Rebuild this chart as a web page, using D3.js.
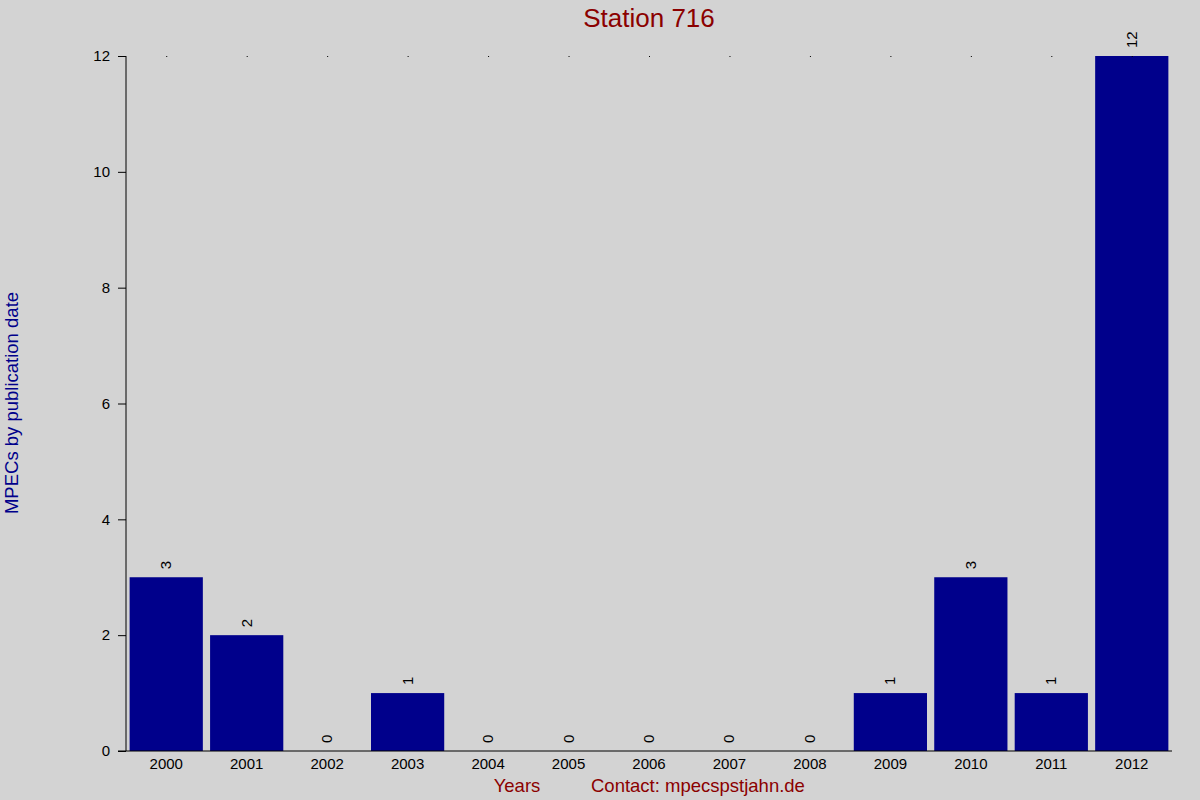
<!DOCTYPE html>
<html>
<head>
<meta charset="utf-8">
<script src="https://cdn.jsdelivr.net/npm/d3@7"></script>
<style>
  body { margin: 0; background: #d3d3d3; }
  text { font-family: "Liberation Sans", Arial, sans-serif; }
</style>
</head>
<body>
<div id="chart"></div>
<script>
// data
const years = ["2000", "2001", "2002", "2003", "2004", "2005", "2006", "2007", "2008", "2009", "2010", "2011", "2012"];
const counts = [3, 2, 0, 1, 0, 0, 0, 0, 0, 1, 3, 1, 12];
const yTicks = [0, 2, 4, 6, 8, 10, 12];

const width = 1200;
const height = 800;
const margin = { top: 56, bottom: 49, left: 126, right: 28 };
const fontStack = '"Liberation Sans", Arial, sans-serif';

const svg = d3.select('#chart')
  .append('svg')
  .attr('width', width)
  .attr('height', height)

svg.append('rect')
  .attr('width', width)
  .attr('height', height)
  .attr('fill', '#d3d3d3')

const x = d3.scaleBand()
  .domain(years)
  .range([margin.left, width - margin.right])
  .paddingInner(0.09)
  .paddingOuter(0.045)

const y = d3.scaleLinear()
  .domain([0, 12])
  .range([height - margin.bottom, margin.top])

// bars
svg.selectAll('rect.bar')
  .data(counts)
  .enter()
  .append('rect')
  .attr('class', 'bar')
  .attr('fill', '#00008b')
  .attr('x', (d, i) => x(years[i]))
  .attr('y', d => y(d))
  .attr('width', x.bandwidth())
  .attr('height', d => y(0) - y(d))

// value labels, rotated
svg.selectAll('text.val')
  .data(counts)
  .enter()
  .append('text')
  .attr('class', 'val')
  .attr('transform', (d, i) => `translate(${x(years[i]) + x.bandwidth() / 2 + 5}, ${y(d) - 8}) rotate(-90)`)
  .style('font-size', '15px')
  .attr('fill', '#000')
  .text(d => d)

// y axis
const yAxis = svg.append('g')
  .attr('transform', `translate(${margin.left}, 0)`)
  .call(d3.axisLeft(y).tickValues(yTicks).tickSize(8).tickPadding(8))
yAxis.select('.domain').attr('d', `M0,${y(12)}V${y(0)}`).attr('stroke', '#000')
yAxis.selectAll('text').style('font-size', '15px').attr('fill', '#000').style('font-family', fontStack)

// x axis
const xAxis = svg.append('g')
  .attr('transform', `translate(0, ${y(0)})`)
  .call(d3.axisBottom(x).tickSize(0).tickPadding(7))
xAxis.select('.domain').attr('d', `M${margin.left - 8},0H${width - margin.right}`).attr('stroke', '#000')
xAxis.selectAll('text').style('font-size', '15px').attr('fill', '#000').style('font-family', fontStack)

// little dots along the top
svg.selectAll('rect.dot')
  .data(years)
  .enter()
  .append('rect')
  .attr('class', 'dot')
  .attr('x', d => x(d) + x.bandwidth() / 2)
  .attr('y', y(12))
  .attr('width', 1)
  .attr('height', 1)
  .attr('fill', '#000')

// titles
svg.append('text')
  .attr('x', 649)
  .attr('y', 27)
  .attr('text-anchor', 'middle')
  .style('font-size', '26px')
  .attr('fill', '#8b0000')
  .text('Station 716')

svg.append('text')
  .attr('transform', `translate(18, 403) rotate(-90)`)
  .attr('text-anchor', 'middle')
  .style('font-size', '18.5px')
  .attr('fill', '#00008b')
  .text('MPECs by publication date')

svg.append('text')
  .attr('x', 517)
  .attr('y', 792)
  .attr('text-anchor', 'middle')
  .style('font-size', '18.5px')
  .attr('fill', '#8b0000')
  .text('Years')

svg.append('text')
  .attr('x', 591)
  .attr('y', 792)
  .style('font-size', '18.5px')
  .attr('fill', '#8b0000')
  .text('Contact: mpecspstjahn.de')
</script>
</body>
</html>
